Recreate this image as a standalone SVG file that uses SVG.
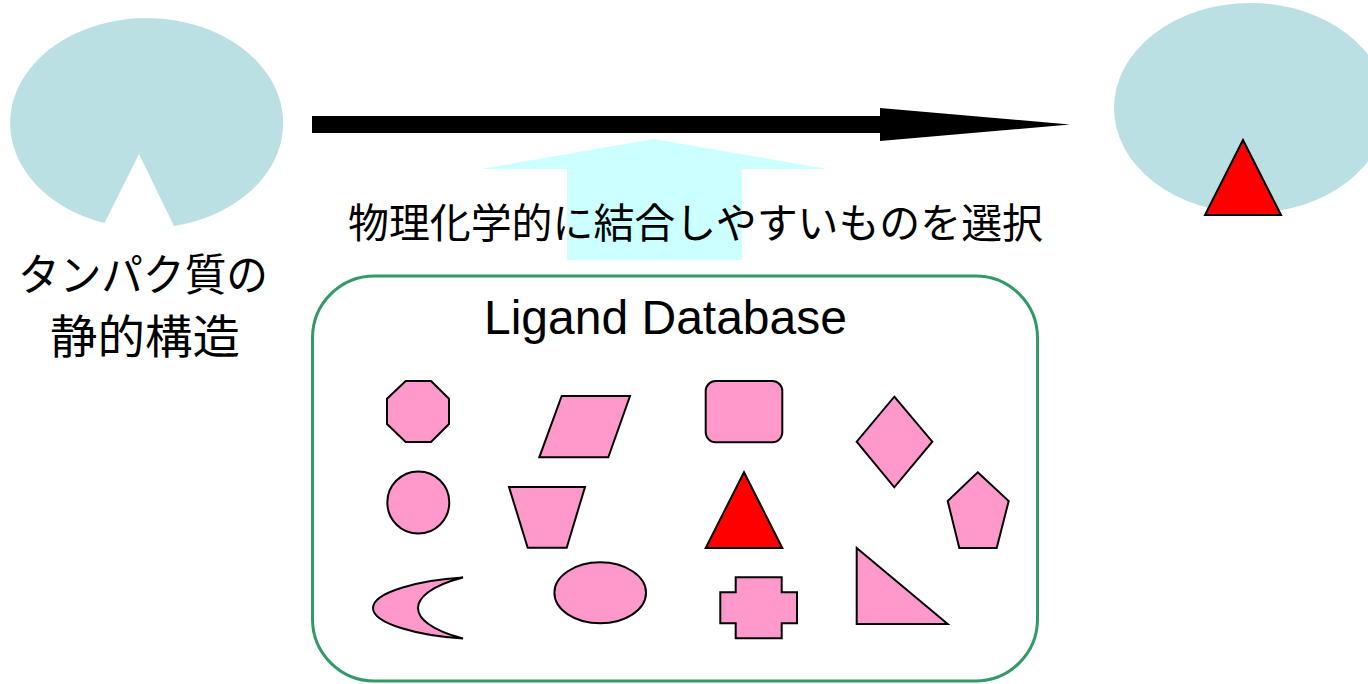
<svg xmlns="http://www.w3.org/2000/svg" width="1368" height="684" viewBox="0 0 1368 684">
<style>
.prot{fill:#BBE0E3;stroke:none}
.lig{fill:#FF99CC;stroke:#000;stroke-width:2;stroke-linejoin:miter}
.hit{fill:#FF0000;stroke:#000;stroke-width:2}
.jp{font-family:"Liberation Sans","Noto Sans CJK JP",sans-serif;fill:#000}
.en{font-family:"Liberation Sans",Arial,sans-serif;fill:#000}
</style>
<rect width="1368" height="684" fill="#fff"/>
<g id="protein-static">
<path class="prot" d="M139,154 L104.5,223 A136.5,105 0 1 1 174,226 Z"/>
<text class="jp" x="18" y="291" font-size="44" textLength="250" lengthAdjust="spacingAndGlyphs">タンパク質の</text>
<text class="jp" x="50" y="353" font-size="46" textLength="190" lengthAdjust="spacingAndGlyphs">静的構造</text>
</g>
<g id="protein-bound">
<ellipse class="prot" cx="1250.5" cy="108" rx="136.5" ry="105"/>
<polygon class="hit" points="1243,140 1205,215 1281,215"/>
</g>
<g id="connectors">
<polygon id="main-arrow" fill="#000" points="312,116 880,116 880,108 1070,124.5 880,141 880,133 312,133"/>
<polygon id="select-arrow" fill="#CCFFFF" points="654,139 827,169 742,169 742,260 567,260 567,169 481,169"/>
</g>
<g id="select-label">
<text class="jp" x="348" y="238" font-size="41" textLength="695" lengthAdjust="spacingAndGlyphs">物理化学的に結合しやすいものを選択</text>
</g>
<g id="ligand-database">
<rect x="312.5" y="276" width="725" height="405" rx="62" ry="62" fill="none" stroke="#339966" stroke-width="3"/>
<text class="en" x="484" y="334" font-size="48">Ligand Database</text>
<polygon class="lig" points="405.7,381 431,381 449,398.7 449,424 431,442 405.7,442 387,424 387,398.7"/>
<polygon class="lig" points="561.7,396 630,396 608.3,457.3 539.3,457.3"/>
<rect class="lig" x="705.7" y="381" width="76.6" height="61.3" rx="10" ry="10"/>
<polygon class="lig" points="894.3,396.7 932.3,441.7 894.3,487.3 856.7,441.7"/>
<circle class="lig" cx="418.3" cy="502.5" r="31"/>
<polygon class="lig" points="509,487 585,487 566.7,547.7 527.7,547.7"/>
<polygon class="hit" points="744,472.3 782.3,548 705.7,548"/>
<polygon class="lig" points="977.7,472.3 1008.7,501 996.7,548 959.3,548 947.7,501"/>
<path class="lig" d="M463,577.5 C420,580 373,592 373,608 C373,624 420,636 463,638.5 C430,630 418,618 418,608 C418,598 430,586 463,577.5 Z"/>
<ellipse class="lig" cx="600.2" cy="592.8" rx="45.8" ry="30.5"/>
<polygon class="lig" points="735.7,577.3 781.7,577.3 781.7,592.3 797,592.3 797,623.3 781.7,623.3 781.7,638.3 735.7,638.3 735.7,623.3 720.3,623.3 720.3,592.3 735.7,592.3"/>
<polygon class="lig" points="856.7,548 947.7,624 856.7,624"/>
</g>
</svg>
